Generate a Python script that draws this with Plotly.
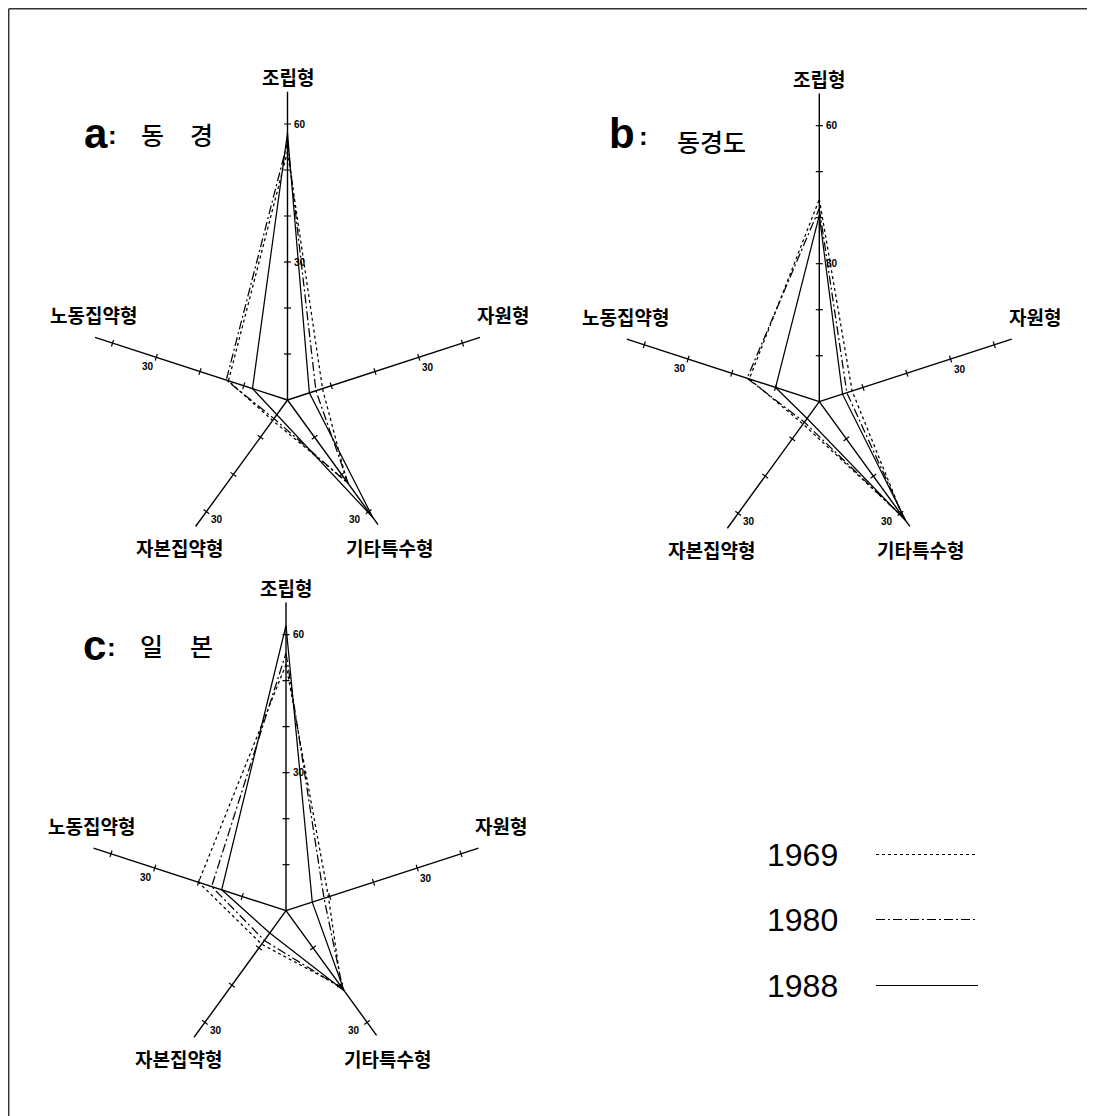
import math
import plotly.graph_objects as go

# ---------------- data ----------------
categories = ["조립형", "자원형", "기타특수형", "자본집약형", "노동집약형"]
years = ["1969", "1980", "1988"]

tokyo_1969 = [54.0, 8.0, 22.0, 5.5, 13.5]
tokyo_1980 = [56.0, 6.5, 22.5, 5.0, 14.0]
tokyo_1988 = [58.0, 5.0, 31.5, 4.0, 8.0]

tokyodo_1969 = [44.0, 7.5, 31.0, 6.0, 16.0]
tokyodo_1980 = [42.0, 6.3, 31.5, 5.5, 16.5]
tokyodo_1988 = [40.5, 5.3, 32.0, 4.5, 10.0]

japan_1969 = [53.5, 9.7, 20.5, 9.0, 20.0]
japan_1980 = [56.0, 8.7, 21.0, 8.0, 17.0]
japan_1988 = [62.0, 6.0, 21.5, 6.0, 14.7]

axis_max = [67, 44, 33.5, 34, 44]
tick_step = 10
tick_labels = [[30, 60], [30], [30], [30], [30]]

panel_letters = ["a", "b", "c"]
panel_names = [["동", "경"], ["동경도"], ["일", "본"]]

# ---------------- geometry / style ----------------
OFF = 8                      # page body margin of the html page
W, H = 1095 - OFF, 1116 - OFF
S = 4.6                      # px per unit
angles = [90, 18, -54, -126, 162]
centers = [(287.5, 400.0), (819.3, 401.7), (286.0, 910.7)]   # page px
HALF_W, UP, DOWN = 250, 340, 165
dash_styles = {"1969": "3px,3px", "1980": "9px,3px,2px,3px", "1988": "solid"}

cat_label_pos = [(0, 70.3), (46.8, 18.5), (22.1, -32.1), (-23.4, -32.1), (-42.2, 18.5)]

series = [
    [tokyo_1969, tokyo_1980, tokyo_1988],
    [tokyodo_1969, tokyodo_1980, tokyodo_1988],
    [japan_1969, japan_1980, japan_1988],
]


def polar_xy(r, ang):
    a = math.radians(ang)
    return r * math.cos(a), r * math.sin(a)


def P(x, y):
    """page px -> paper fraction"""
    return (x - OFF) / W, 1 - (y - OFF) / H


fig = go.Figure()
annotations = []
layout_axes = {}

for k in range(3):
    xa = "x" if k == 0 else f"x{k+1}"
    ya = "y" if k == 0 else f"y{k+1}"
    xname = "xaxis" if k == 0 else f"xaxis{k+1}"
    yname = "yaxis" if k == 0 else f"yaxis{k+1}"
    cx, cy = centers[k]
    dx0, dy_top = P(cx - HALF_W, cy - UP)
    dx1, dy_bot = P(cx + HALF_W, cy + DOWN)
    layout_axes[xname] = dict(domain=[dx0, min(1, dx1)],
                              range=[-HALF_W / S, (min(1, dx1) * W - (dx0 * W)) / S - HALF_W / S],
                              visible=False, fixedrange=True, anchor=ya)
    layout_axes[yname] = dict(domain=[max(0, dy_bot), min(1, dy_top)],
                              range=[-DOWN / S, UP / S], visible=False,
                              fixedrange=True, anchor=xa)

    # axes lines and tick marks
    for i, cat in enumerate(categories):
        ex, ey = polar_xy(axis_max[i], angles[i])
        fig.add_trace(go.Scatter(x=[0, ex], y=[0, ey], mode="lines",
                                 line=dict(color="black", width=1.4),
                                 xaxis=xa, yaxis=ya, showlegend=False, hoverinfo="skip"))
        tv = list(range(tick_step, int(axis_max[i]) + 1, tick_step))
        tx = [polar_xy(v, angles[i])[0] for v in tv]
        ty = [polar_xy(v, angles[i])[1] for v in tv]
        fig.add_trace(go.Scatter(x=tx, y=ty, mode="markers",
                                 marker=dict(symbol="line-ns", size=5, angle=-angles[i],
                                             line=dict(color="black", width=1.2)),
                                 xaxis=xa, yaxis=ya, showlegend=False, hoverinfo="skip"))
        lx, ly = cat_label_pos[i]
        annotations.append(dict(x=lx, y=ly, xref=xa, yref=ya, text=f"<b>{cat}</b>",
                                showarrow=False, xanchor="center", yanchor="middle",
                                font=dict(family="Noto Sans CJK KR", size=19, color="black")))
        for v in tick_labels[i]:
            px_, py_ = polar_xy(v, angles[i])
            if i == 0:
                pos = dict(x=1.0, y=v, xanchor="left")
            elif i == 1:
                pos = dict(x=px_ + 2.0, y=py_ - 2.3, xanchor="center")
            elif i == 4:
                pos = dict(x=px_ - 1.8, y=py_ - 2.0, xanchor="center")
            elif i == 3:
                pos = dict(x=px_ + 0.6, y=py_ - 1.8, xanchor="left")
            else:
                pos = dict(x=px_ - 1.2, y=py_ - 1.8, xanchor="right")
            annotations.append(dict(**pos, xref=xa, yref=ya, text=f"<b>{v}</b>",
                                    showarrow=False, yanchor="middle",
                                    font=dict(family="Liberation Sans", size=10, color="black")))

    for yi, yr in enumerate(years):
        vals = series[k][yi]
        px = [polar_xy(v, a)[0] for v, a in zip(vals, angles)]
        py = [polar_xy(v, a)[1] for v, a in zip(vals, angles)]
        px.append(px[0]); py.append(py[0])
        fig.add_trace(go.Scatter(x=px, y=py, mode="lines", name=yr,
                                 line=dict(color="black", width=1.25, dash=dash_styles[yr]),
                                 xaxis=xa, yaxis=ya, showlegend=False))

# ---------------- titles ----------------
title_parts = [
    [("a", 96, 133, 42, True), (":", 112, 135, 26, True), ("동", 152.5, 134.5, 25, False), ("경", 201, 134.5, 25, False)],
    [("b", 622, 133, 42, True), (":", 644, 136, 26, True), ("동경도", 711, 141, 25, False)],
    [("c", 94, 645, 42, True), (":", 111, 647, 26, True), ("일", 151, 645, 25, False), ("본", 201, 645, 25, False)],
]
for parts in title_parts:
    for txt, x, y, sz, bold in parts:
        ax, ay = P(x, y)
        annotations.append(dict(x=ax, y=ay, xref="paper", yref="paper",
                                text=f"<b>{txt}</b>" if bold else txt, showarrow=False,
                                xanchor="center", yanchor="middle",
                                font=dict(family="Liberation Sans, Noto Sans CJK KR" if bold else "Noto Sans CJK KR",
                                          size=sz, color="black", weight=700 if bold else 500)))

# ---------------- legend (text + sample lines) ----------------
shapes = []
legend_y = [855, 920, 986]
for yr, ly in zip(years, legend_y):
    ax, ay = P(802.5, ly)
    annotations.append(dict(x=ax, y=ay, xref="paper", yref="paper", text=yr, showarrow=False,
                            xanchor="center", yanchor="middle",
                            font=dict(family="Liberation Sans", size=32, color="black")))
    x0, y0 = P(876, ly - 0.5)
    x1, _ = P(978, ly - 0.5)
    shapes.append(dict(type="line", xref="paper", yref="paper", x0=x0, x1=x1, y0=y0, y1=y0,
                       line=dict(color="black", width=1.2, dash=dash_styles[yr])))

# frame (top and left)
fx0, fy0 = P(8.7, 8.7)
fx1, _ = P(1093, 8.7)
_, fy1 = P(8.7, 1116)
shapes.append(dict(type="line", xref="paper", yref="paper", x0=fx0, x1=fx1, y0=fy0, y1=fy0,
                   line=dict(color="#333", width=1.5)))
shapes.append(dict(type="line", xref="paper", yref="paper", x0=fx0, x1=fx0, y0=fy0, y1=fy1,
                   line=dict(color="#333", width=1.5)))

fig.update_layout(width=W, height=H, autosize=False, margin=dict(l=0, r=0, t=0, b=0),
                  paper_bgcolor="white", plot_bgcolor="rgba(0,0,0,0)",
                  annotations=annotations, shapes=shapes, showlegend=False, **layout_axes)

fig.write_html("out.html")
